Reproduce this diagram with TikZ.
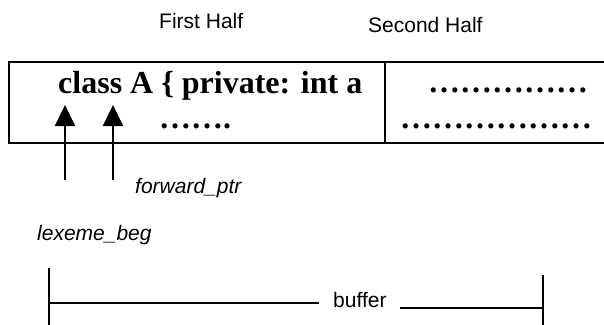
\documentclass[tikz,border=0pt]{standalone}
\usepackage{fontspec}
\setmainfont{Liberation Sans}
\newfontfamily\codefont{Liberation Serif}
\usetikzlibrary{arrows.meta}
\begin{document}
\begin{tikzpicture}[x=1pt,y=-1pt,
  frame/.style={line width=2pt},
  ptr/.style={line width=2pt,-{Triangle[width=20pt,length=21pt]}},
  dimline/.style={line width=1.8pt},
  lbl/.style={font=\fontsize{21}{25}\selectfont, inner sep=0pt, anchor=base west},
  code/.style={font=\codefont\bfseries\fontsize{32}{38}\selectfont, inner sep=0pt, anchor=base west}]
\useasboundingbox (0,0) rectangle (604,324);

% half labels
\node[lbl] (first) at (159,28) {First Half};
\node[lbl] (second) at (368,32) {Second Half};

% buffer frame, open to the right
\draw[frame] (604,62) -- (9,62) -- (9,142.5) -- (604,142.5);
\draw[frame] (385,62) -- (385,142.5);

% buffer contents
\node[code] (src) at (58,93) {class A \{ private: int a};
\node[code] (srcdots) at (159,128) {…….};
\node[code] (dotsA) at (428,92) {……………};
\node[code] (dotsB) at (400,128) {………………};

% pointers
\coordinate (lexfoot) at (65,180);
\coordinate (lextip) at (65,105);
\coordinate (fwdfoot) at (113,180);
\coordinate (fwdtip) at (113,105);
\draw[ptr] (lexfoot) -- (lextip);
\draw[ptr] (fwdfoot) -- (fwdtip);
\node[lbl, font=\itshape\fontsize{21}{25}\selectfont] (fwd) at (135,193) {forward\_ptr};
\node[lbl, font=\itshape\fontsize{21}{25}\selectfont] (lex) at (37,240) {lexeme\_beg};

% buffer extent
\node[lbl] (buf) at (333,307) {buffer};
\coordinate (bl) at (49,268);
\coordinate (blb) at (49,326);
\coordinate (br) at (543,275);
\coordinate (brb) at (543,326);
\draw[dimline] (bl) -- (blb);
\draw[dimline] (br) -- (brb);
\draw[dimline] (49,303) -- (319,303);
\draw[dimline] (400,308) -- (543,308);
\end{tikzpicture}
\end{document}
